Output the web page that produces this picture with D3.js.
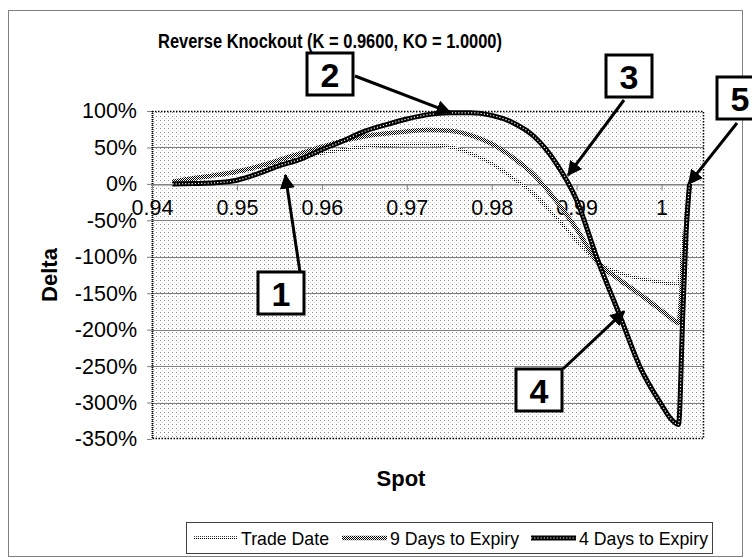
<!DOCTYPE html>
<html>
<head>
<meta charset="utf-8">
<script src="https://cdn.jsdelivr.net/npm/d3@7"></script>
<style>
    body { margin: 0; background: #fff; }
    text { font-family: "Liberation Sans", Arial, sans-serif; fill: #000; }
</style>
</head>
<body>
<svg id="chart" width="752" height="558"></svg>
<script>
// spot grid shared by all three series
const spots = [0.9424, 0.945, 0.9475, 0.95, 0.9525, 0.955, 0.9575, 0.96, 0.9625, 0.965,
    0.9675, 0.97, 0.9725, 0.975, 0.9775, 0.98, 0.9825, 0.985, 0.9875, 0.99,
    0.9925, 0.995, 0.9975, 1.0, 1.001, 1.002, 1.0025, 1.0029, 1.0033];

// delta in %
const tradeDate = [3, 7, 11, 16, 22, 29, 36, 42, 47, 51,
    53, 54, 54, 51, 42, 28, 8, -14, -45, -78,
    -108, -122, -130, -135, -137, -138, -86, -43, 0];
const nineDays = [3, 8, 12, 17, 24, 33, 42, 51, 59, 65,
    69, 72, 74, 73, 67, 55, 36, 12, -22, -62,
    -108, -131, -152, -174, -183, -191, -120, -60, 0];
const fourDays = [0, 0.5, 1.5, 5, 14, 25, 34, 47, 59, 72,
    81, 89, 95, 97.5, 97.5, 94, 84, 65, 30, -22,
    -105, -178, -252, -303, -321, -330, -180, -65, 0];

const seriesNames = ['Trade Date', '9 Days to Expiry', '4 Days to Expiry'];

const xTicks = [0.94, 0.95, 0.96, 0.97, 0.98, 0.99, 1.0];
const xTickLabels = ['0.94', '0.95', '0.96', '0.97', '0.98', '0.99', '1'];
const yTicks = [100, 50, 0, -50, -100, -150, -200, -250, -300, -350];

// numbered callouts: box [x, y], arrow start in px, arrow tip in data units
const callouts = [
    { label: '1', box: [258, 272], from: [300, 272], tip: [0.9557, 12] },
    { label: '2', box: [307, 53], from: [355, 76], tip: [0.9751, 98] },
    { label: '3', box: [606, 55], from: [624, 100], tip: [0.9890, 12] },
    { label: '4', box: [516, 369], from: [563, 369], tip: [0.9956, -175] },
    { label: '5', box: [717, 77], from: [737, 123], tip: [1.0032, 0] }
];

const plot = { left: 152, right: 704, top: 111, bottom: 439 };

const svg = d3.select('#chart');

const defs = svg.append('defs');

// excel style dotted fill for the plot area
const bg = defs.append('pattern')
    .attr('id', 'dots')
    .attr('patternUnits', 'userSpaceOnUse')
    .attr('width', 4).attr('height', 4);
bg.append('rect').attr('width', 4).attr('height', 4).attr('fill', '#fff');
bg.append('rect').attr('x', 0).attr('y', 0).attr('width', 1).attr('height', 1).attr('fill', '#8a8a8a');
bg.append('rect').attr('x', 2).attr('y', 2).attr('width', 1).attr('height', 1).attr('fill', '#d4d4d4');

// checker stroke for 9 days
const checker = defs.append('pattern')
    .attr('id', 'checker')
    .attr('patternUnits', 'userSpaceOnUse')
    .attr('width', 2).attr('height', 2);
checker.append('rect').attr('width', 2).attr('height', 2).attr('fill', '#fff');
checker.append('rect').attr('width', 1).attr('height', 1).attr('fill', '#000');
checker.append('rect').attr('x', 1).attr('y', 1).attr('width', 1).attr('height', 1).attr('fill', '#000');

// sparse stroke for trade date
const sparse = defs.append('pattern')
    .attr('id', 'sparse')
    .attr('patternUnits', 'userSpaceOnUse')
    .attr('width', 2).attr('height', 2);
sparse.append('rect').attr('width', 2).attr('height', 2).attr('fill', '#fff');
sparse.append('rect').attr('width', 1).attr('height', 1).attr('fill', '#000');

defs.append('marker')
    .attr('id', 'head')
    .attr('viewBox', '0 0 10 10')
    .attr('refX', 9).attr('refY', 5)
    .attr('markerWidth', 5).attr('markerHeight', 5)
    .attr('markerUnits', 'strokeWidth')
    .attr('orient', 'auto')
    .append('path')
    .attr('d', 'M0,0 L10,5 L0,10 z')
    .attr('fill', '#000');

// outer frame
svg.append('rect')
    .attr('x', 8.5).attr('y', 10.5)
    .attr('width', 734).attr('height', 546)
    .attr('fill', '#fff')
    .attr('stroke', '#808080');

const x = d3.scaleLinear()
    .domain([0.94, 1.005])
    .range([plot.left, plot.right]);

const y = d3.scaleLinear()
    .domain([-350, 100])
    .range([plot.bottom, plot.top]);

svg.append('rect')
    .attr('x', plot.left).attr('y', plot.top)
    .attr('width', plot.right - plot.left)
    .attr('height', plot.bottom - plot.top)
    .attr('fill', 'url(#dots)');

// gridlines
svg.append('g')
    .selectAll('line')
    .data(yTicks.filter(d => d < 100 && d > -350))
    .join('line')
    .attr('x1', plot.left).attr('x2', plot.right)
    .attr('y1', d => Math.round(y(d)) + 0.5)
    .attr('y2', d => Math.round(y(d)) + 0.5)
    .attr('stroke', '#808080');

// dotted plot border
svg.append('path')
    .attr('d', `M${plot.left},${plot.top + 0.5} H${plot.right - 0.5} V${plot.bottom - 0.5} H${plot.left}`)
    .attr('fill', 'none')
    .attr('stroke', '#000')
    .attr('stroke-width', 1.5)
    .attr('stroke-dasharray', '1.5,1.5');

const yAxis = d3.axisLeft(y)
    .tickValues(yTicks)
    .tickFormat(d => d + '%')
    .tickSize(5)
    .tickPadding(10);

const gY = svg.append('g')
    .attr('transform', `translate(${plot.left},0)`)
    .call(yAxis);
gY.select('.domain').remove();
gY.selectAll('.tick line').attr('stroke', '#808080');
gY.selectAll('.tick text')
    .attr('font-family', '"Liberation Sans", Arial, sans-serif')
    .attr('font-size', 21.5);

// dotted y axis line
svg.append('line')
    .attr('x1', plot.left + 0.5).attr('x2', plot.left + 0.5)
    .attr('y1', plot.top).attr('y2', plot.bottom)
    .attr('stroke', '#000')
    .attr('stroke-width', 2)
    .attr('stroke-dasharray', '1,1');

const xAxis = d3.axisBottom(x)
    .tickValues(xTicks)
    .tickFormat((d, i) => xTickLabels[i])
    .tickSize(6)
    .tickSizeOuter(0)
    .tickPadding(9);

const gX = svg.append('g')
    .attr('transform', `translate(0,${Math.round(y(0)) + 0.5})`)
    .call(xAxis);
gX.select('.domain').attr('stroke', '#808080');
gX.selectAll('.tick line').attr('stroke', '#808080');
gX.selectAll('.tick text')
    .attr('font-family', '"Liberation Sans", Arial, sans-serif')
    .attr('font-size', 21.5);

const line = d3.line()
    .x((d, i) => x(spots[i]))
    .y(d => y(d))
    .curve(d3.curveMonotoneX);

const lines = svg.append('g');

lines.append('path')
    .attr('d', line(tradeDate))
    .attr('fill', 'none')
    .attr('stroke', 'url(#sparse)')
    .attr('stroke-width', 3.5);

lines.append('path')
    .attr('d', line(nineDays))
    .attr('fill', 'none')
    .attr('stroke', 'url(#checker)')
    .attr('stroke-width', 4.5);

lines.append('path')
    .attr('d', line(fourDays))
    .attr('fill', 'none')
    .attr('stroke', '#000')
    .attr('stroke-width', 5);

lines.append('path')
    .attr('d', line(fourDays))
    .attr('fill', 'none')
    .attr('stroke', '#fff')
    .attr('stroke-width', 1.2)
    .attr('stroke-dasharray', '1.2,2');

// titles
svg.append('text')
    .attr('x', 158).attr('y', 48)
    .attr('font-weight', 'bold')
    .attr('font-size', 19.5)
    .attr('textLength', 344)
    .attr('lengthAdjust', 'spacingAndGlyphs')
    .text('Reverse Knockout (K = 0.9600, KO = 1.0000)');

svg.append('text')
    .attr('transform', 'translate(57,275) rotate(-90)')
    .attr('text-anchor', 'middle')
    .attr('font-weight', 'bold')
    .attr('font-size', 22)
    .text('Delta');

svg.append('text')
    .attr('x', 401).attr('y', 486)
    .attr('text-anchor', 'middle')
    .attr('font-weight', 'bold')
    .attr('font-size', 22)
    .text('Spot');

// callouts
const cg = svg.append('g');
callouts.forEach(c => {
    cg.append('line')
        .attr('x1', c.from[0]).attr('y1', c.from[1])
        .attr('x2', x(c.tip[0])).attr('y2', y(c.tip[1]))
        .attr('stroke', '#000')
        .attr('stroke-width', 3)
        .attr('marker-end', 'url(#head)');
    cg.append('rect')
        .attr('x', c.box[0]).attr('y', c.box[1])
        .attr('width', 46).attr('height', 42)
        .attr('fill', '#fff')
        .attr('stroke', '#000')
        .attr('stroke-width', 3);
    cg.append('text')
        .attr('x', c.box[0] + 23).attr('y', c.box[1] + 34)
        .attr('text-anchor', 'middle')
        .attr('font-weight', 'bold')
        .attr('font-size', 34)
        .text(c.label);
});

// legend
const legend = svg.append('g');
legend.append('rect')
    .attr('x', 186.5).attr('y', 522.5)
    .attr('width', 526).attr('height', 31)
    .attr('fill', '#fff')
    .attr('stroke', '#404040');

const legendX = [193, 342, 531];
const legendText = [88, 129, 129];
const legendStroke = ['url(#sparse)', 'url(#checker)', '#000'];
const legendWidth = [3.5, 4.5, 5];
seriesNames.forEach((name, i) => {
    const lx = legendX[i];
    legend.append('line')
        .attr('x1', lx).attr('x2', lx + 45)
        .attr('y1', 538).attr('y2', 538)
        .attr('stroke', legendStroke[i])
        .attr('stroke-width', legendWidth[i]);
    if (i === 2) {
        legend.append('line')
            .attr('x1', lx).attr('x2', lx + 45)
            .attr('y1', 538).attr('y2', 538)
            .attr('stroke', '#fff')
            .attr('stroke-width', 1.2)
            .attr('stroke-dasharray', '1.2,2');
    }
    legend.append('text')
        .attr('x', lx + 48).attr('y', 545)
        .attr('font-size', 19)
        .attr('textLength', legendText[i])
        .attr('lengthAdjust', 'spacingAndGlyphs')
        .text(name);
});
</script>
</body>
</html>
